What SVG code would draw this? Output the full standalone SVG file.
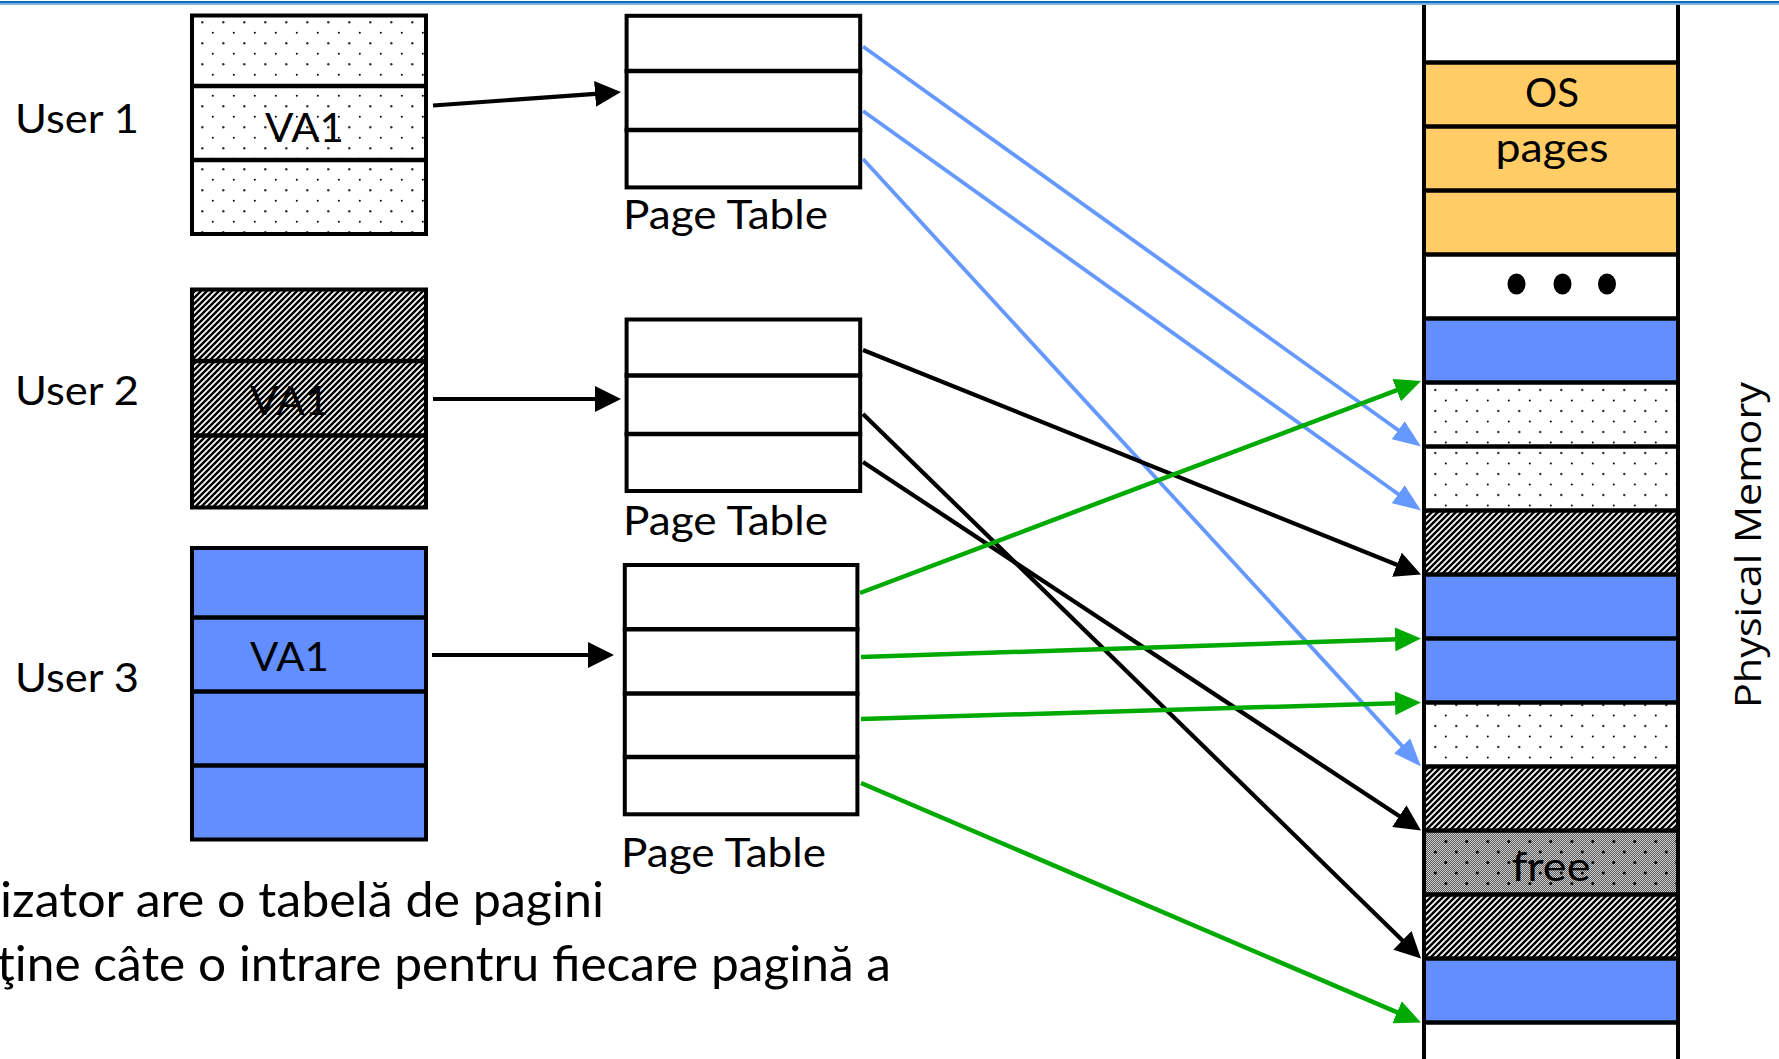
<svg xmlns="http://www.w3.org/2000/svg" width="1779" height="1059" viewBox="0 0 1779 1059">
<style>
  .lbl{font-family:Lato,"Open Sans","Liberation Sans",sans-serif;font-size:41px;fill:#000}
  .body{font-family:Lato,"Open Sans","Liberation Sans",sans-serif;font-size:48px;fill:#000}
  .pm{font-family:"Open Sans","DejaVu Sans",sans-serif;font-size:36px;fill:#000}
  .frame{fill:none;stroke:#000;stroke-width:4}
  .div{stroke:#000;stroke-width:4.5}
  .k{stroke:#000;stroke-width:4.2;fill:none}
  .b{stroke:#6699FF;stroke-width:3.8;fill:none}
  .g{stroke:#00AA00;stroke-width:4.5;fill:none}
  .blue{fill:#628EFF}
  .os{fill:#FFCC66}
  .white{fill:#fff}
</style>
<defs>
  <pattern id="dotsU" patternUnits="userSpaceOnUse" width="21" height="21">
    <rect width="21" height="21" fill="#fff"/>
    <circle cx="13.3" cy="1.3" r="1.2" fill="#333"/>
    <circle cx="2.8" cy="11.8" r="1" fill="#000"/>
  </pattern>
  <pattern id="dotsP" patternUnits="userSpaceOnUse" width="21" height="21">
    <rect width="21" height="21" fill="#fff"/>
    <circle cx="7.3" cy="12" r="1.2" fill="#333"/>
    <circle cx="17.8" cy="1.5" r="1" fill="#000"/>
  </pattern>
  <pattern id="hatch" patternUnits="userSpaceOnUse" width="6" height="6">
    <rect width="6" height="6" fill="#fff"/>
    <path d="M-1,1 L1,-1 M0,6 L6,0 M5,7 L7,5" stroke="#000" stroke-width="2.5"/>
  </pattern>
  <pattern id="checker" patternUnits="userSpaceOnUse" width="2" height="2">
    <rect width="2" height="2" fill="#5a5a5a"/>
    <rect width="1" height="1" fill="#cfcfcf"/>
    <rect x="1" y="1" width="1" height="1" fill="#cfcfcf"/>
  </pattern>
  <pattern id="freeDots" patternUnits="userSpaceOnUse" width="21" height="21">
    <circle cx="7.3" cy="12" r="1.5" fill="#000"/>
    <circle cx="17.8" cy="1.5" r="1.5" fill="#000"/>
  </pattern>
  <marker id="ak" markerUnits="userSpaceOnUse" markerWidth="27" markerHeight="26" refX="18" refY="13" orient="auto">
    <path d="M0,0 L26,13 L0,26 z" fill="#000"/>
  </marker>
  <marker id="ab" markerUnits="userSpaceOnUse" markerWidth="29" markerHeight="22" refX="20" refY="11" orient="auto">
    <path d="M0,0 L28,11 L0,22 z" fill="#6699FF"/>
  </marker>
  <marker id="ag" markerUnits="userSpaceOnUse" markerWidth="27" markerHeight="24" refX="18" refY="12" orient="auto">
    <path d="M0,0 L26,12 L0,24 z" fill="#00AA00"/>
  </marker>
</defs>

<rect width="1779" height="1059" fill="#fff"/>
<rect x="0" y="1" width="1779" height="2.5" fill="#0F6CBD"/>
<rect x="0" y="3.5" width="1779" height="1.5" fill="#7FB2E0"/>

<g id="user1">
  <rect x="192" y="15.5" width="234" height="218.5" fill="url(#dotsU)"/>
  <line class="div" x1="190" y1="86" x2="428" y2="86"/>
  <line class="div" x1="190" y1="160" x2="428" y2="160"/>
  <rect class="frame" x="192" y="15.5" width="234" height="218.5"/>
  <text class="lbl" x="15" y="132.5" textLength="124" lengthAdjust="spacingAndGlyphs">User 1</text>
  <text class="lbl" x="265" y="142" textLength="79" lengthAdjust="spacingAndGlyphs">VA1</text>
</g>

<g id="user2">
  <rect x="192" y="289.5" width="234" height="218" fill="url(#hatch)"/>
  <line class="div" x1="190" y1="361" x2="428" y2="361"/>
  <line class="div" x1="190" y1="435.5" x2="428" y2="435.5"/>
  <rect class="frame" x="192" y="289.5" width="234" height="218"/>
  <text class="lbl" x="15" y="404.5" textLength="124" lengthAdjust="spacingAndGlyphs">User 2</text>
  <text class="lbl" x="250" y="415" textLength="79" lengthAdjust="spacingAndGlyphs">VA1</text>
</g>

<g id="user3">
  <rect class="blue" x="192" y="548" width="234" height="291.5"/>
  <line class="div" x1="190" y1="617.5" x2="428" y2="617.5"/>
  <line class="div" x1="190" y1="691.5" x2="428" y2="691.5"/>
  <line class="div" x1="190" y1="765.5" x2="428" y2="765.5"/>
  <rect class="frame" x="192" y="548" width="234" height="291.5"/>
  <text class="lbl" x="15" y="692" textLength="124" lengthAdjust="spacingAndGlyphs">User 3</text>
  <text class="lbl" x="250" y="671" textLength="79" lengthAdjust="spacingAndGlyphs">VA1</text>
</g>

<g id="pagetable1">
  <rect class="white" x="626.6" y="15.8" width="233.6" height="171.6"/>
  <line class="div" x1="624.6" y1="71" x2="862.2" y2="71"/>
  <line class="div" x1="624.6" y1="130" x2="862.2" y2="130"/>
  <rect class="frame" x="626.6" y="15.8" width="233.6" height="171.6"/>
  <text class="lbl" x="623" y="229" textLength="205" lengthAdjust="spacingAndGlyphs">Page Table</text>
</g>

<g id="pagetable2">
  <rect class="white" x="626.6" y="319.5" width="233.6" height="171.5"/>
  <line class="div" x1="624.6" y1="375.5" x2="862.2" y2="375.5"/>
  <line class="div" x1="624.6" y1="434" x2="862.2" y2="434"/>
  <rect class="frame" x="626.6" y="319.5" width="233.6" height="171.5"/>
  <text class="lbl" x="623" y="535" textLength="205" lengthAdjust="spacingAndGlyphs">Page Table</text>
</g>

<g id="pagetable3">
  <rect class="white" x="624.8" y="565" width="232.6" height="249.3"/>
  <line class="div" x1="622.8" y1="629.3" x2="859.4" y2="629.3"/>
  <line class="div" x1="622.8" y1="693.4" x2="859.4" y2="693.4"/>
  <line class="div" x1="622.8" y1="757" x2="859.4" y2="757"/>
  <rect class="frame" x="624.8" y="565" width="232.6" height="249.3"/>
  <text class="lbl" x="621" y="867" textLength="205" lengthAdjust="spacingAndGlyphs">Page Table</text>
</g>

<g id="physical-memory">
  <rect class="white" x="1424" y="5" width="254" height="57.5"/>
  <rect class="os" x="1424" y="62.5" width="254" height="192"/>
  <rect class="white" x="1424" y="254.5" width="254" height="64"/>
  <rect class="blue" x="1424" y="318.5" width="254" height="64"/>
  <rect x="1424" y="382.5" width="254" height="128" fill="url(#dotsP)"/>
  <rect x="1424" y="510.5" width="254" height="64" fill="url(#hatch)"/>
  <rect class="blue" x="1424" y="574.5" width="254" height="128"/>
  <rect x="1424" y="702.5" width="254" height="64" fill="url(#dotsP)"/>
  <rect x="1424" y="766.5" width="254" height="64" fill="url(#hatch)"/>
  <rect x="1424" y="830.5" width="254" height="64" fill="url(#checker)"/>
  <rect x="1424" y="830.5" width="254" height="64" fill="url(#freeDots)"/>
  <rect x="1424" y="894.5" width="254" height="64" fill="url(#hatch)"/>
  <rect class="blue" x="1424" y="958.5" width="254" height="64"/>
  <rect class="white" x="1424" y="1022.5" width="254" height="40"/>
  <g class="div">
    <line x1="1422" y1="62.5" x2="1680" y2="62.5"/>
    <line x1="1422" y1="126.5" x2="1680" y2="126.5"/>
    <line x1="1422" y1="190.5" x2="1680" y2="190.5"/>
    <line x1="1422" y1="254.5" x2="1680" y2="254.5"/>
    <line x1="1422" y1="318.5" x2="1680" y2="318.5"/>
    <line x1="1422" y1="382.5" x2="1680" y2="382.5"/>
    <line x1="1422" y1="446.5" x2="1680" y2="446.5"/>
    <line x1="1422" y1="510.5" x2="1680" y2="510.5"/>
    <line x1="1422" y1="574.5" x2="1680" y2="574.5"/>
    <line x1="1422" y1="638.5" x2="1680" y2="638.5"/>
    <line x1="1422" y1="702.5" x2="1680" y2="702.5"/>
    <line x1="1422" y1="766.5" x2="1680" y2="766.5"/>
    <line x1="1422" y1="830.5" x2="1680" y2="830.5"/>
    <line x1="1422" y1="894.5" x2="1680" y2="894.5"/>
    <line x1="1422" y1="958.5" x2="1680" y2="958.5"/>
    <line x1="1422" y1="1022.5" x2="1680" y2="1022.5"/>
  </g>
  <line x1="1424" y1="5" x2="1424" y2="1059" stroke="#000" stroke-width="4"/>
  <line x1="1678" y1="5" x2="1678" y2="1059" stroke="#000" stroke-width="4"/>
  <text class="lbl" x="1552" y="106.7" text-anchor="middle" textLength="54" lengthAdjust="spacingAndGlyphs">OS</text>
  <text class="lbl" x="1552" y="161.8" text-anchor="middle" textLength="113" lengthAdjust="spacingAndGlyphs">pages</text>
  <ellipse cx="1516.5" cy="284" rx="9" ry="10.5" fill="#000"/>
  <ellipse cx="1562.5" cy="284" rx="9" ry="10.5" fill="#000"/>
  <ellipse cx="1607" cy="284" rx="9" ry="10.5" fill="#000"/>
  <text class="lbl" x="1551" y="881" text-anchor="middle" textLength="79" lengthAdjust="spacingAndGlyphs">free</text>
  <text class="pm" transform="translate(1761,545) rotate(-90)" text-anchor="middle" textLength="326" lengthAdjust="spacingAndGlyphs">Physical Memory</text>
</g>

<g id="connectors">
  <line class="k" x1="433" y1="105.5" x2="613" y2="92.6" marker-end="url(#ak)"/>
  <line class="k" x1="433" y1="399" x2="613" y2="399" marker-end="url(#ak)"/>
  <line class="k" x1="432" y1="655" x2="606" y2="655" marker-end="url(#ak)"/>

  <line class="b" x1="863" y1="46.5" x2="1414.5" y2="441.8" marker-end="url(#ab)"/>
  <line class="b" x1="863" y1="111" x2="1414.5" y2="505.8" marker-end="url(#ab)"/>
  <line class="b" x1="863" y1="159" x2="1415.6" y2="760.6" marker-end="url(#ab)"/>

  <line class="k" x1="863" y1="350" x2="1413.6" y2="571.5" marker-end="url(#ak)"/>
  <line class="k" x1="863" y1="414" x2="1415.3" y2="952.9" marker-end="url(#ak)"/>
  <line class="k" x1="863" y1="462" x2="1414.3" y2="826.1" marker-end="url(#ak)"/>

  <line class="g" x1="860" y1="593" x2="1413.5" y2="383.8" marker-end="url(#ag)"/>
  <line class="g" x1="861" y1="657" x2="1413" y2="638.8" marker-end="url(#ag)"/>
  <line class="g" x1="861" y1="719" x2="1413" y2="702.7" marker-end="url(#ag)"/>
  <line class="g" x1="861" y1="783" x2="1413.6" y2="1019.4" marker-end="url(#ag)"/>
</g>

<g id="caption">
  <text class="body" x="0" y="917" textLength="604" lengthAdjust="spacingAndGlyphs">izator are o tabelă de pagini</text>
  <text class="body" x="-3" y="981" textLength="894" lengthAdjust="spacingAndGlyphs">ţine câte o intrare pentru fiecare pagină a</text>
</g>
</svg>
